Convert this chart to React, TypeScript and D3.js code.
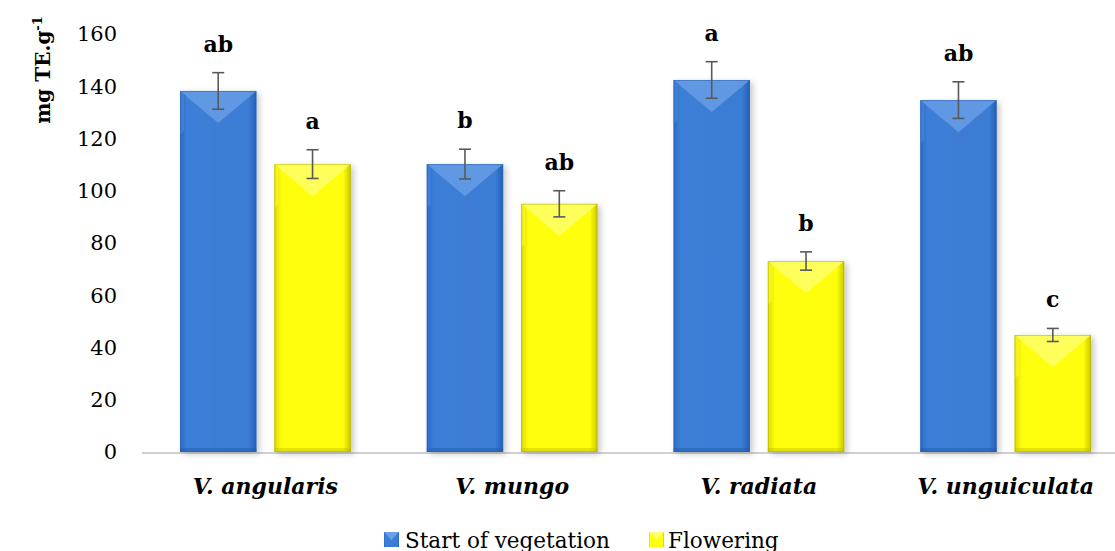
import React from "react";
import * as d3 from "d3";

const categories = ["V. angularis", "V. mungo", "V. radiata", "V. unguiculata"];
const seriesNames = ["Start of vegetation", "Flowering"];
const startValues = [138.2, 110.2, 142.4, 134.7];
const startErrors = [7, 5.7, 7, 7];
const startLetters = ["ab", "b", "a", "ab"];
const flowerValues = [110.2, 95, 73.1, 44.8];
const flowerErrors = [5.5, 5, 3.5, 2.5];
const flowerLetters = ["a", "ab", "b", "c"];
const yTicks = [0, 20, 40, 60, 80, 100, 120, 140, 160];

const W = 1115;
const H = 551;
const FONT = "'DejaVu Serif', serif";

export default function App() {
  const x0 = d3.scaleBand<string>().domain(categories).range([142, 1129]).paddingInner(0).paddingOuter(0);
  const x1 = d3
    .scaleBand<number>()
    .domain([0, 1])
    .range([38, x0.bandwidth() - 38])
    .paddingInner(0.19)
    .paddingOuter(0);
  const y = d3.scaleLinear().domain([0, 160]).range([452, 34]);

  const series = [
    { values: startValues, errors: startErrors, letters: startLetters, grad: "gBlue", top: "#6a9fe6", side: "#4b89dc", bottom: "#1d5aa8", edge: "#2b5ea6" },
    { values: flowerValues, errors: flowerErrors, letters: flowerLetters, grad: "gYellow", top: "#ffff70", side: "#ffff30", bottom: "#c2c200", edge: "#a9a900" },
  ];

  return (
    <svg width={W} height={H} style={{ position: "absolute", left: 0, top: 0, background: "#fff" }}>
      <defs>
        <linearGradient id="gBlue" x1="0" x2="1" y1="0" y2="0">
          <stop offset="0" stopColor="#2a6cc8" />
          <stop offset="0.1" stopColor="#3d7fd8" />
          <stop offset="0.9" stopColor="#3a7bd4" />
          <stop offset="1" stopColor="#2460b5" />
        </linearGradient>
        <linearGradient id="gYellow" x1="0" x2="1" y1="0" y2="0">
          <stop offset="0" stopColor="#dcdc00" />
          <stop offset="0.1" stopColor="#ffff10" />
          <stop offset="0.9" stopColor="#ffff08" />
          <stop offset="1" stopColor="#c8c800" />
        </linearGradient>
        <filter id="shadow" x="-20%" y="-5%" width="150%" height="115%">
          <feGaussianBlur in="SourceAlpha" stdDeviation="3" />
          <feOffset dx="3" dy="2" result="b" />
          <feComponentTransfer><feFuncA type="linear" slope="0.22" /></feComponentTransfer>
          <feMerge><feMergeNode /><feMergeNode in="SourceGraphic" /></feMerge>
        </filter>
      </defs>

      {/* baseline */}
      <line x1={142} x2={1115} y1={453} y2={453} stroke="#d0d0d0" strokeWidth={2} />

      {/* y ticks */}
      {yTicks.map((t) => (
        <text key={t} x={117} y={y(t)} dy="0.35em" textAnchor="end" fontFamily={FONT} fontSize={21} fill="#000">
          {t}
        </text>
      ))}

      {/* y title */}
      <text transform="translate(50,70) rotate(-90)" textAnchor="middle" fontFamily={FONT} fontSize={20} fontWeight="bold" fill="#000">
        mg TE.g<tspan dy="-8" fontSize={13}>-1</tspan>
      </text>

      {/* bars */}
      {categories.map((c, ci) => (
        <g key={c}>
          {series.map((s, si) => {
            const bx = (x0(c) as number) + (x1(si) as number);
            const bw = x1.bandwidth();
            const by = y(s.values[ci]);
            const bb = y(0);
            const bh = bb - by;
            const d = Math.min(bw * 0.42, bh * 0.5);
            const cx = bx + bw / 2;
            const e = s.errors[ci];
            return (
              <g key={si}>
                <g filter="url(#shadow)">
                  <rect x={bx} y={by} width={bw} height={bh} fill={`url(#${s.grad})`} />
                </g>
                <polygon points={`${bx},${by} ${bx + 4},${by + 4} ${bx + 4},${by + d + 8} ${bx},${by + d + 12}`} fill={s.side} opacity={0.5} />
                <polygon points={`${bx},${by} ${bx + bw},${by} ${cx},${by + d}`} fill={s.top} opacity={0.8} />
                <rect x={bx} y={bb - 4} width={bw} height={4} fill={s.bottom} opacity={0.45} />
                <rect x={bx + 0.5} y={by + 0.5} width={bw - 1} height={bh - 1} fill="none" stroke={s.edge} strokeWidth={1} opacity={0.5} />
                {/* error bar */}
                <g stroke="#595959" strokeWidth={1.6}>
                  <line x1={cx} x2={cx} y1={y(s.values[ci] + e)} y2={y(s.values[ci] - e)} />
                  <line x1={cx - 6} x2={cx + 6} y1={y(s.values[ci] + e)} y2={y(s.values[ci] + e)} />
                  <line x1={cx - 6} x2={cx + 6} y1={y(s.values[ci] - e)} y2={y(s.values[ci] - e)} />
                </g>
                <text x={cx} y={y(s.values[ci] + e) - 21} textAnchor="middle" fontFamily={FONT} fontSize={22} fontWeight="bold" fill="#000">
                  {s.letters[ci]}
                </text>
              </g>
            );
          })}
          <text x={(x0(c) as number) + x0.bandwidth() / 2} y={494} textAnchor="middle" fontFamily={FONT} fontSize={22} fontWeight="bold" fontStyle="italic" fill="#000">
            {c}
          </text>
        </g>
      ))}

      {/* legend */}
      <g>
        <rect x={384} y={532} width={15} height={15} fill="url(#gBlue)" />
        <polygon points="384,532 399,532 391.5,540" fill="#6a9fe6" />
        <text x={405} y={548} fontFamily={FONT} fontSize={21.5} fill="#000">{seriesNames[0]}</text>
        <rect x={649} y={532} width={15} height={15} fill="url(#gYellow)" />
        <polygon points="649,532 664,532 656.5,540" fill="#ffff70" />
        <text x={668} y={548} fontFamily={FONT} fontSize={21.5} fill="#000">{seriesNames[1]}</text>
      </g>
    </svg>
  );
}
